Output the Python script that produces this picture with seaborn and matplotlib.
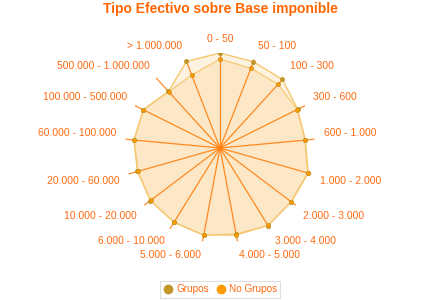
import numpy as np
import pandas as pd
import matplotlib
matplotlib.use("Agg")
import matplotlib.pyplot as plt
from matplotlib.lines import Line2D
import seaborn as sns

categories = ["0 - 50", "50 - 100", "100 - 300", "300 - 600", "600 - 1.000",
              "1.000 - 2.000", "2.000 - 3.000", "3.000 - 4.000", "4.000 - 5.000",
              "5.000 - 6.000", "6.000 - 10.000", "10.000 - 20.000", "20.000 - 60.000",
              "60.000 - 100.000", "100.000 - 500.000", "500.000 - 1.000.000", "> 1.000.000"]
grupos = [100.0, 97.4, 97.6, 91.4, 90.2, 96.6, 94.1, 96.2, 92.2, 93.5, 92.2, 91.9,
          90.3, 91.1, 90.4, 80.6, 97.7]
no_grupos = [93.6, 90.0, 90.7, 90.9, 89.8, 96.0, 93.7, 95.8, 93.3, 93.1, 91.8, 91.5,
             89.9, 90.7, 90.0, 80.2, 82.4]
series_names = ["Grupos", "No Grupos"]
series_colors = ["#C3962A", "#FF9A00"]

sns.set_theme(style="white")
plt.rcParams["font.family"] = ["Liberation Sans", "DejaVu Sans"]

n = len(categories)
theta = np.arange(n) * 2 * np.pi / n
theta_closed = np.append(theta, 2 * np.pi)
rmax = max(max(grupos), max(no_grupos))

frames = []
for name, vals in zip(series_names, [grupos, no_grupos]):
    frames.append(pd.DataFrame({"series": name, "theta": theta_closed,
                                "value": list(vals) + [vals[0]]}))
df = pd.concat(frames, ignore_index=True)

fig = plt.figure(figsize=(4.4, 3.0), dpi=100)
ax = fig.add_axes([125 / 440, (152 - 95) / 300, 190 / 440, 190 / 300], projection="polar")
ax.set_theta_zero_location("N")
ax.set_theta_direction(-1)
ax.grid(False)
ax.set_facecolor("none")

# fills
for name, vals in zip(series_names, [grupos, no_grupos]):
    ax.fill(theta_closed, list(vals) + [vals[0]], color="#F9C46A", alpha=0.21, lw=0, zorder=1)

# spokes
for t in theta:
    ax.plot([t, t], [0, rmax], color="#FF7F10", lw=0.9, alpha=0.9, zorder=2)

# outlines
sns.lineplot(data=df, x="theta", y="value", hue="series", sort=False, estimator=None,
             units="series", palette=["#F5C462", "#F7C978"], lw=0.9, ax=ax, legend=False, zorder=3)
# markers
for name, vals, c in zip(series_names, [grupos, no_grupos], series_colors):
    ax.plot(theta, vals, ls="none", marker="o", ms=3.1, mfc=c, mec="#B8901E", mew=0.4, zorder=4)

ax.set_xlabel("")
ax.set_ylabel("")
ax.set_ylim(0, rmax)
ax.set_xticks([])
ax.set_yticks([])
ax.spines["polar"].set_visible(False)

label_color = "#FF6A10"
for t, lab in zip(theta, categories):
    s, c = np.sin(t), np.cos(t)
    if abs(s) < 1e-6:
        ha = "center"
    else:
        ha = "left" if s > 0 else "right"
    va = "bottom" if c > 0 else "top"
    ax.text(t, rmax * 1.095, lab, ha=ha, va=va, fontsize=7.5, color=label_color, clip_on=False)

fig.text(0.5, 1 - 13 / 300, "Tipo Efectivo sobre Base imponible", ha="center", va="baseline",
         fontsize=10, fontweight="bold", color="#FF6600")

handles = [Line2D([], [], ls="none", marker="o", ms=6, mfc=c, mec=c) for c in series_colors]
leg = fig.legend(handles, series_names, loc="center", bbox_to_anchor=(0.5, 11 / 300), ncol=2,
                 frameon=True, fancybox=False, fontsize=7.2, handletextpad=0.3, columnspacing=0.7,
                 handlelength=1.0, borderpad=0.35, borderaxespad=0)
for txt in leg.get_texts():
    txt.set_color("#FF6A10")
leg.get_frame().set_edgecolor("#D8D8D8")
leg.get_frame().set_linewidth(0.8)

fig.savefig("out.png", dpi=100, facecolor="white")
